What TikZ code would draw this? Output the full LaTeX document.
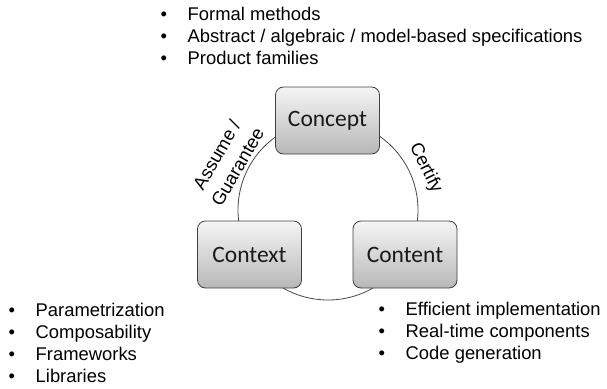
\documentclass[tikz,border=0pt]{standalone}
\usepackage{fontspec}
\setmainfont{Liberation Sans}
\newfontfamily\boxfont{Carlito}
\tikzset{
  phase/.style={draw=black!75, line width=0.8pt, rounded corners=8pt,
    top color=black!4, bottom color=black!28,
    minimum width=104pt, minimum height=67pt,
    font=\boxfont\fontsize{23.5}{28}\selectfont, text=black!90},
  entry/.style={anchor=base west, inner sep=0pt, text height=13pt, text depth=4pt},
  dot/.style={entry, text width=27pt},
  itemlist/.style={inner sep=0pt, row sep=5.2pt, column sep=0pt,
    anchor=north west, nodes={entry}}
}
\begin{document}
\begin{tikzpicture}[x=1pt, y=-1pt, font=\fontsize{18.4}{22}\selectfont]
  \useasboundingbox (0,0) rectangle (607,388);
  % the cycle behind the three boxes
  \coordinate (hub) at (328,210);
  \draw[black!72, line width=0.8pt] (hub) circle [radius=90pt];
  \node[phase] (concept) at (327.5,120.5) {Concept};
  \node[phase] (context) at (249.5,254.5) {Context};
  \node[phase] (content) at (405,254.5) {Content};
  \node[rotate=60, align=center, font=\fontsize{18.4}{24}\selectfont] (assume) at (227,161) {Assume /\\Guarantee};
  \node[rotate=-64] (certify) at (425.5,168) {Certify};
  % bullet lists
  \matrix [itemlist] (conceptlist) at (160.5,7) {
    \node[dot] {•}; & \node {Formal methods}; \\
    \node[dot] {•}; & \node {Abstract / algebraic / model-based specifications}; \\
    \node[dot] {•}; & \node {Product families}; \\
  };
  \matrix [itemlist] (contextlist) at (8.5,303) {
    \node[dot] {•}; & \node {Parametrization}; \\
    \node[dot] {•}; & \node {Composability}; \\
    \node[dot] {•}; & \node {Frameworks}; \\
    \node[dot] {•}; & \node {Libraries}; \\
  };
  \matrix [itemlist] (contentlist) at (378.5,302) {
    \node[dot] {•}; & \node {Efficient implementation}; \\
    \node[dot] {•}; & \node {Real-time components}; \\
    \node[dot] {•}; & \node {Code generation}; \\
  };
\end{tikzpicture}
\end{document}
